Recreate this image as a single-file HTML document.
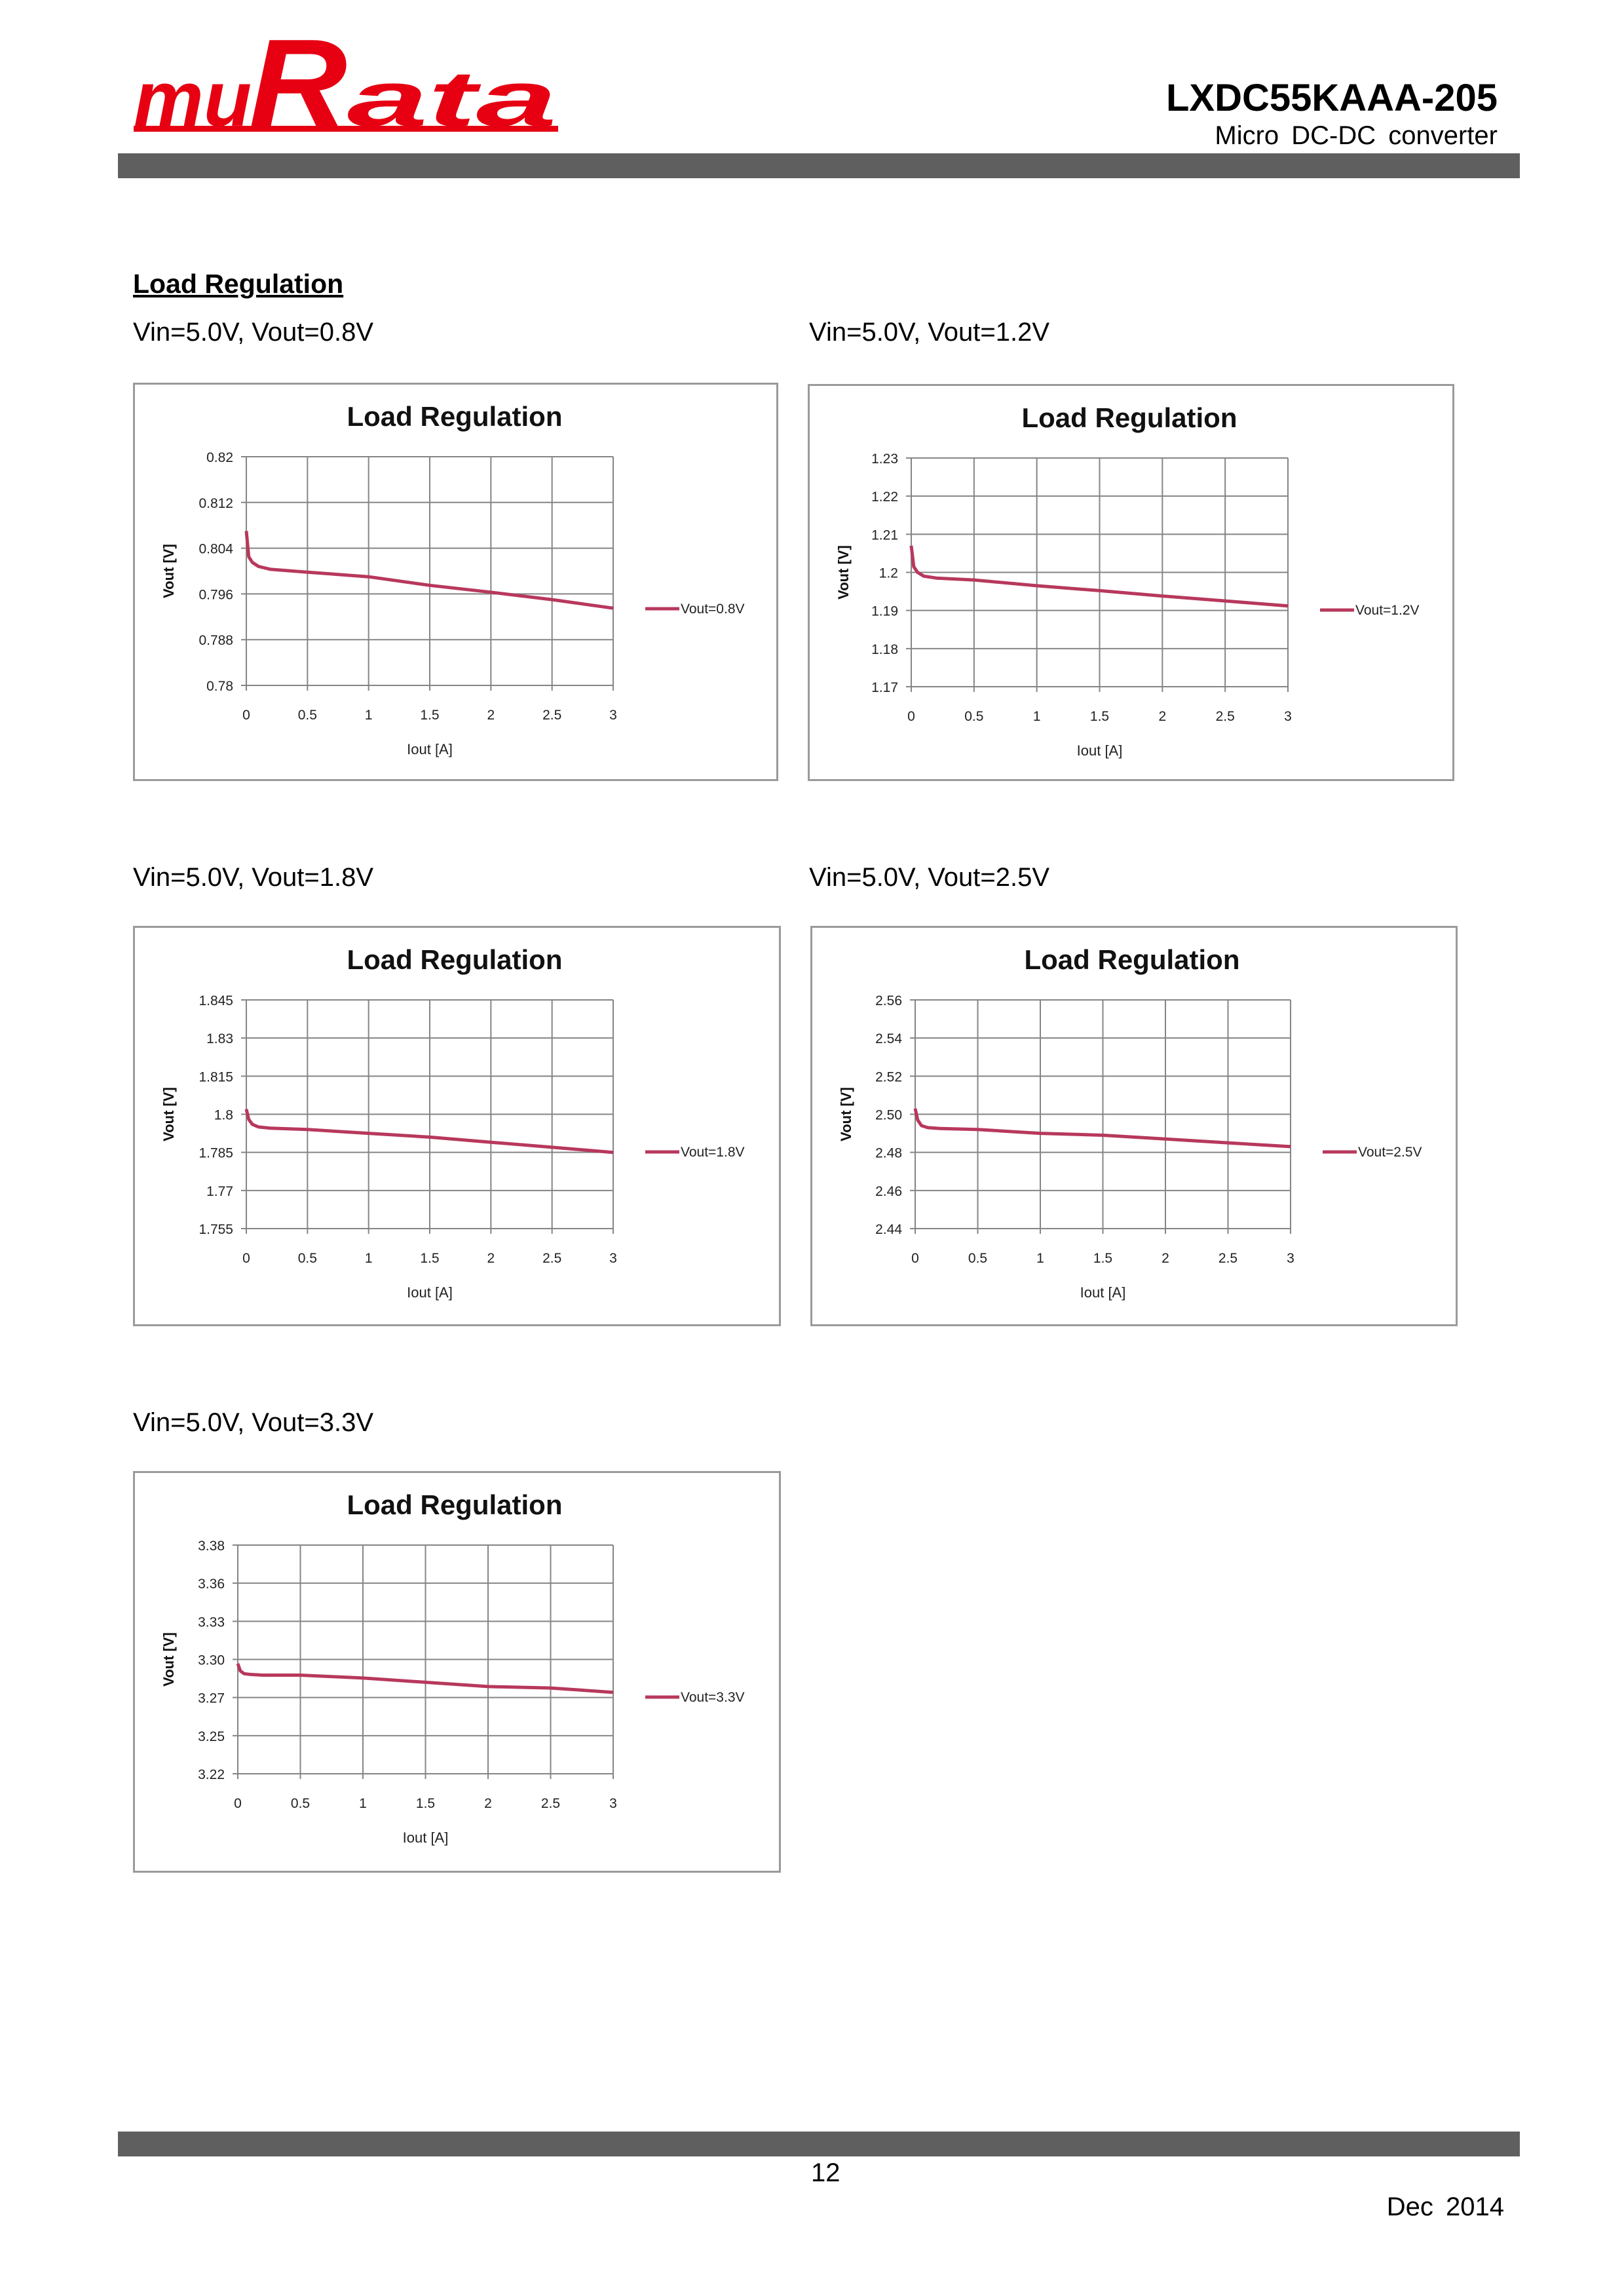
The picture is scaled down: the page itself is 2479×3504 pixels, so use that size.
<!DOCTYPE html>
<html><head><meta charset="utf-8"><style>
body{margin:0;background:#fff;}
#page{position:relative;width:2479px;height:3504px;overflow:hidden;background:#fff;font-family:"Liberation Sans",sans-serif;color:#000;}
.abs{position:absolute;white-space:nowrap;}
.bar{position:absolute;background:#5f5f5f;}
.lbl{position:absolute;font-size:40px;}
svg text{font-family:"Liberation Sans",sans-serif;}
</style></head><body>
<div id="page">
  <svg class="abs" style="left:200px;top:40px;" width="670" height="175">
    <text x="4" y="152" font-family="Liberation Serif, serif" font-style="italic" font-weight="bold" font-size="120" fill="#e60012" textLength="180" lengthAdjust="spacingAndGlyphs">mu</text>
    <text x="180" y="152" font-family="Liberation Serif, serif" font-style="italic" font-weight="bold" font-size="190" fill="#e60012" textLength="150" lengthAdjust="spacingAndGlyphs">R</text>
    <text x="330" y="152" font-family="Liberation Serif, serif" font-style="italic" font-weight="bold" font-size="120" fill="#e60012" textLength="320" lengthAdjust="spacingAndGlyphs">ata</text>
    <rect x="4" y="152" width="648" height="9" fill="#e60012"/>
  </svg>
  <div class="abs" style="right:193px;top:116px;font-size:58px;font-weight:bold;">LXDC55KAAA-205</div>
  <div class="abs" style="right:193px;top:185px;font-size:40px;word-spacing:8px;">Micro DC-DC converter</div>
  <div class="bar" style="left:180px;top:234px;width:2140px;height:38px;"></div>
  <div class="abs" style="left:203px;top:410px;font-size:41px;font-weight:bold;text-decoration:underline;">Load Regulation</div>
  <div class="lbl abs" style="left:203px;top:485px;">Vin=5.0V, Vout=0.8V</div>
  <div class="lbl abs" style="left:1235px;top:485px;">Vin=5.0V, Vout=1.2V</div>
  <div class="lbl abs" style="left:203px;top:1317px;">Vin=5.0V, Vout=1.8V</div>
  <div class="lbl abs" style="left:1235px;top:1317px;">Vin=5.0V, Vout=2.5V</div>
  <div class="lbl abs" style="left:203px;top:2149px;">Vin=5.0V, Vout=3.3V</div>
  <div class="bar" style="left:180px;top:3253px;width:2140px;height:38px;"></div>
  <div class="abs" style="left:1238px;top:3294px;font-size:40px;">12</div>
  <div class="abs" style="right:183px;top:3346px;font-size:40px;word-spacing:8px;">Dec 2014</div>
</div>
<script>
const xVals = [0, 0.02, 0.05, 0.1, 0.2, 0.5, 1, 1.5, 2, 2.5, 3];
const xTicks = [0, 0.5, 1, 1.5, 2, 2.5, 3];
const xTickLabels = ["0", "0.5", "1", "1.5", "2", "2.5", "3"];
const series08 = [0.807, 0.8025, 0.8015, 0.8008, 0.8003, 0.7998, 0.799, 0.7975, 0.7963, 0.795, 0.7935];
const series12 = [1.207, 1.2015, 1.2000, 1.1990, 1.1985, 1.1980, 1.1965, 1.1952, 1.1938, 1.1925, 1.1912];
const series18 = [1.802, 1.798, 1.796, 1.795, 1.7945, 1.794, 1.7925, 1.791, 1.789, 1.787, 1.785];
const series25 = [2.503, 2.497, 2.494, 2.493, 2.4925, 2.492, 2.490, 2.489, 2.487, 2.485, 2.483];
const series33 = [3.297, 3.292, 3.290, 3.2895, 3.289, 3.289, 3.287, 3.284, 3.281, 3.280, 3.277];
const yTicks08 = ["0.82", "0.812", "0.804", "0.796", "0.788", "0.78"];
const yTicks12 = ["1.23", "1.22", "1.21", "1.2", "1.19", "1.18", "1.17"];
const yTicks18 = ["1.845", "1.83", "1.815", "1.8", "1.785", "1.77", "1.755"];
const yTicks25 = ["2.56", "2.54", "2.52", "2.50", "2.48", "2.46", "2.44"];
const yTicks33 = ["3.38", "3.36", "3.33", "3.30", "3.27", "3.25", "3.22"];
const yRanges = [[0.78, 0.82], [1.17, 1.23], [1.755, 1.845], [2.44, 2.56], [3.22, 3.38]];
const legendNames = ["Vout=0.8V", "Vout=1.2V", "Vout=1.8V", "Vout=2.5V", "Vout=3.3V"];

const layouts = [
  {x:203, y:584, w:985, h:608, pl:173},
  {x:1233, y:586, w:987, h:606, pl:158},
  {x:203, y:1413, w:989, h:611, pl:173},
  {x:1237, y:1413, w:988, h:611, pl:160},
  {x:203, y:2245, w:989, h:613, pl:160}
];
const allSeries = [series08, series12, series18, series25, series33];
const allTicks = [yTicks08, yTicks12, yTicks18, yTicks25, yTicks33];
const NS = "http://www.w3.org/2000/svg";
function mk(tag, attrs, parent){const e=document.createElementNS(NS,tag);for(const k in attrs)e.setAttribute(k,attrs[k]);parent.appendChild(e);return e;}
const host = document.getElementById("page");
layouts.forEach((L, i) => {
  const svg = document.createElementNS(NS, "svg");
  
  
  svg.setAttribute("width", L.w); svg.setAttribute("height", L.h);
  svg.style.position = "absolute"; svg.style.left = L.x + "px"; svg.style.top = L.y + "px";
  host.appendChild(svg);
  mk("rect", {x:1.5, y:1.5, width:L.w-3, height:L.h-3, fill:"#fff", stroke:"#9a9a9a", "stroke-width":3}, svg);
  const px0 = L.pl, px1 = 733, py0 = 113, py1 = 462;
  const [ymin, ymax] = yRanges[i];
  const xs = v => px0 + (v - 0) / 3 * (px1 - px0);
  const ys = v => py1 - (v - ymin) / (ymax - ymin) * (py1 - py0);
  const t = mk("text", {x:491, y:66, "text-anchor":"middle", "font-size":42, "font-weight":"bold", fill:"#111"}, svg);
  t.textContent = "Load Regulation";
  
  
  const ticks = allTicks[i];
  const n = ticks.length - 1;
  ticks.forEach((lab, k) => {
    const yy = py0 + k * (py1 - py0) / n;
    const g = mk("line", {x1:px0-8, x2:px1, y1:yy, y2:yy, stroke:"#858585", "stroke-width":2}, svg);
    
    
    const tl = mk("text", {x:px0-20, y:yy+8, "text-anchor":"end", "font-size":21, fill:"#222"}, svg);
    tl.textContent = lab;
    
    
  });
  xTicks.forEach((v, k) => {
    const xx = xs(v);
    const g = mk("line", {x1:xx, x2:xx, y1:py0, y2:py1+8, stroke:"#858585", "stroke-width":2}, svg);
    
    
    const tl = mk("text", {x:xx, y:py1+52, "text-anchor":"middle", "font-size":21, fill:"#222"}, svg);
    tl.textContent = xTickLabels[k];
    
    
  });
  const xt = mk("text", {x:(px0+px1)/2, y:py1+105, "text-anchor":"middle", "font-size":22, fill:"#222"}, svg);
  xt.textContent = "Iout [A]";
  
  
  const yt = mk("text", {x:0, y:0, "text-anchor":"middle", "font-size":22, "font-weight":"bold", fill:"#111", transform:`translate(62 ${(py0+py1)/2}) rotate(-90)`}, svg);
  yt.textContent = "Vout [V]";
  
  
  const d = allSeries[i].map((v, k) => (k ? "L" : "M") + xs(xVals[k]).toFixed(1) + " " + ys(v).toFixed(1)).join(" ");
  const p = mk("path", {d:d, fill:"none", stroke:"#b8385c", "stroke-width":5, "stroke-linejoin":"round"}, svg);
  
  
  const ll = mk("line", {x1:782, x2:834, y1:345, y2:345, stroke:"#b8385c", "stroke-width":5}, svg);
  
  
  const lt = mk("text", {x:836, y:352, "font-size":21, fill:"#222"}, svg);
  lt.textContent = legendNames[i];
  
  
});
</script>
</body></html>
